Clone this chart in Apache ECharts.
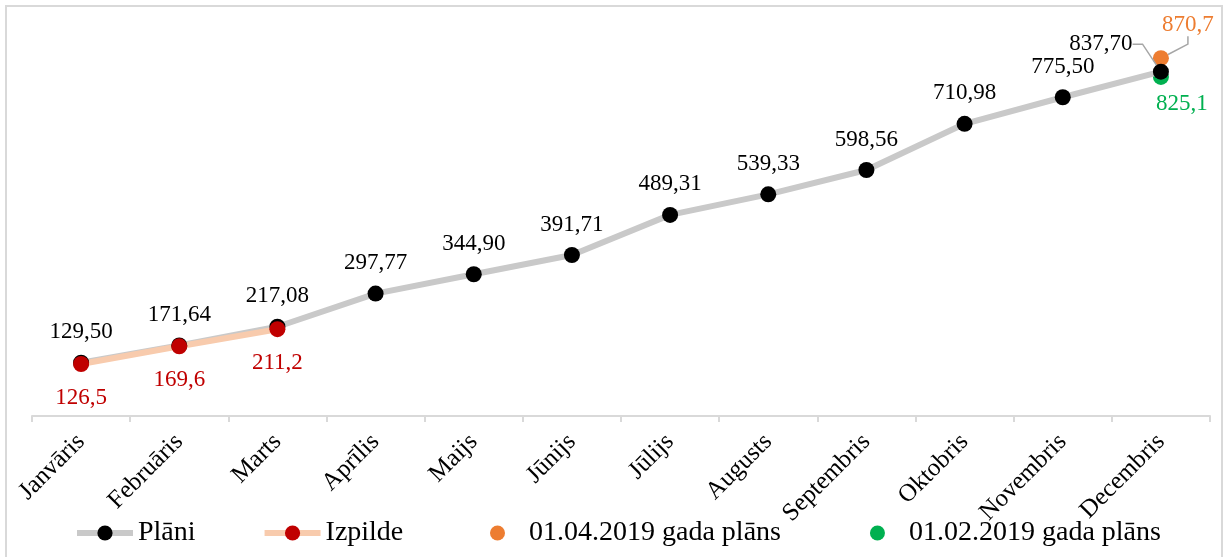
<!DOCTYPE html>
<html>
<head>
<meta charset="utf-8">
<script src="https://cdn.jsdelivr.net/npm/echarts@6/dist/echarts.min.js"></script>
<style>
  html, body { margin: 0; padding: 0; overflow: hidden; background: #fff; }
  .frame { position: absolute; left: 5px; top: 5px; width: 1214px; height: 700px; border: 2px solid #d9d9d9; }
  #chart { position: absolute; left: 0; top: 0; width: 1225px; height: 557px; }
</style>
</head>
<body>
<div class="frame"></div>
<div id="chart"></div>
<script>
// data
var months = ["Janvāris", "Februāris", "Marts", "Aprīlis", "Maijs", "Jūnijs", "Jūlijs", "Augusts", "Septembris", "Oktobris", "Novembris", "Decembris"];
var plan = [129.50, 171.64, 217.08, 297.77, 344.90, 391.71, 489.31, 539.33, 598.56, 710.98, 775.50, 837.70];
var actual = [126.5, 169.6, 211.2];
var aprilPlanMonth = "Decembris";
var aprilPlanValue = 870.7;
var febPlanMonth = "Decembris";
var febPlanValue = 825.1;

var font = "'Liberation Serif', 'Times New Roman', serif";
var leader = { show: true, length2: 10, lineStyle: { color: "#a6a6a6", width: 1.5 } };

function fmt(v, d) {
  return v.toFixed(d).replace(".", ",");
}

// last plan point: label pulled to the left with a leader line
var planData = plan.map(function (v, i) {
  if (i !== plan.length - 1) return v;
  return { value: v, labelLine: leader };
});

var myChart = echarts.init(document.getElementById("chart"));
myChart.setOption({
  animation: false,
  textStyle: { fontFamily: font },
  grid: { left: 32, right: 15, top: 5, bottom: 141 },
  legend: [
    {
      data: ["Plāni", "Izpilde"],
      left: 69,
      top: 514,
      itemWidth: 56,
      itemHeight: 19,
      itemGap: 66,
      lineStyle: { width: 6 },
      textStyle: { fontSize: 28, color: "#000", fontFamily: font }
    },
    {
      data: ["01.04.2019 gada plāns", "01.02.2019 gada plāns"],
      left: 485,
      top: 514,
      itemWidth: 53,
      itemHeight: 15,
      itemGap: 89,
      textStyle: { fontSize: 28, color: "#000", fontFamily: font }
    }
  ],
  xAxis: {
    type: "category",
    data: months,
    boundaryGap: true,
    axisLine: { lineStyle: { color: "#d9d9d9", width: 2 } },
    axisTick: { show: true, length: 6, lineStyle: { color: "#d9d9d9", width: 2 } },
    axisLabel: {
      rotate: 45,
      margin: 22,
      interval: 0,
      color: "#000",
      fontSize: 25,
      fontFamily: font
    }
  },
  yAxis: {
    type: "value",
    show: false,
    min: 0,
    max: 1000,
    splitLine: { show: false }
  },
  series: [
    {
      name: "Plāni",
      type: "line",
      data: planData,
      symbol: "circle",
      symbolSize: 16,
      itemStyle: { color: "#000" },
      lineStyle: { color: "#c9c9c9", width: 6 },
      label: {
        show: true,
        position: "top",
        distance: 11,
        color: "#000",
        fontSize: 23,
        fontFamily: font,
        formatter: function (p) { return fmt(p.value, 2); }
      },
      labelLayout: function (p) {
        return p.dataIndex === plan.length - 1 ? { dx: -60, dy: 3 } : {};
      }
    },
    {
      name: "Izpilde",
      type: "line",
      data: actual,
      symbol: "circle",
      symbolSize: 16,
      itemStyle: { color: "#c00000" },
      lineStyle: { color: "#f8cbad", width: 6 },
      label: {
        show: true,
        position: "bottom",
        distance: 14,
        color: "#c00000",
        fontSize: 23,
        fontFamily: font,
        formatter: function (p) { return fmt(p.value, 1); }
      }
    },
    {
      name: "01.04.2019 gada plāns",
      type: "scatter",
      data: [[aprilPlanMonth, aprilPlanValue]],
      symbolSize: 16,
      z: 1,
      itemStyle: { color: "#ed7d31", opacity: 1 },
      label: {
        show: true,
        position: "top",
        distance: 5,
        color: "#ed7d31",
        fontSize: 23,
        fontFamily: font,
        formatter: function (p) { return fmt(p.value[1], 1); }
      },
      labelLayout: { dx: 27, dy: -9 },
      labelLine: { show: true, length2: 8, lineStyle: { color: "#a6a6a6", width: 1.5 } }
    },
    {
      name: "01.02.2019 gada plāns",
      type: "scatter",
      data: [[febPlanMonth, febPlanValue]],
      symbolSize: 16,
      itemStyle: { color: "#00b050", opacity: 1 },
      label: {
        show: true,
        position: "bottom",
        distance: 5,
        color: "#00b050",
        fontSize: 23,
        fontFamily: font,
        formatter: function (p) { return fmt(p.value[1], 1); }
      },
      labelLayout: { dx: 21, dy: 3 }
    }
  ]
});
</script>
</body>
</html>
